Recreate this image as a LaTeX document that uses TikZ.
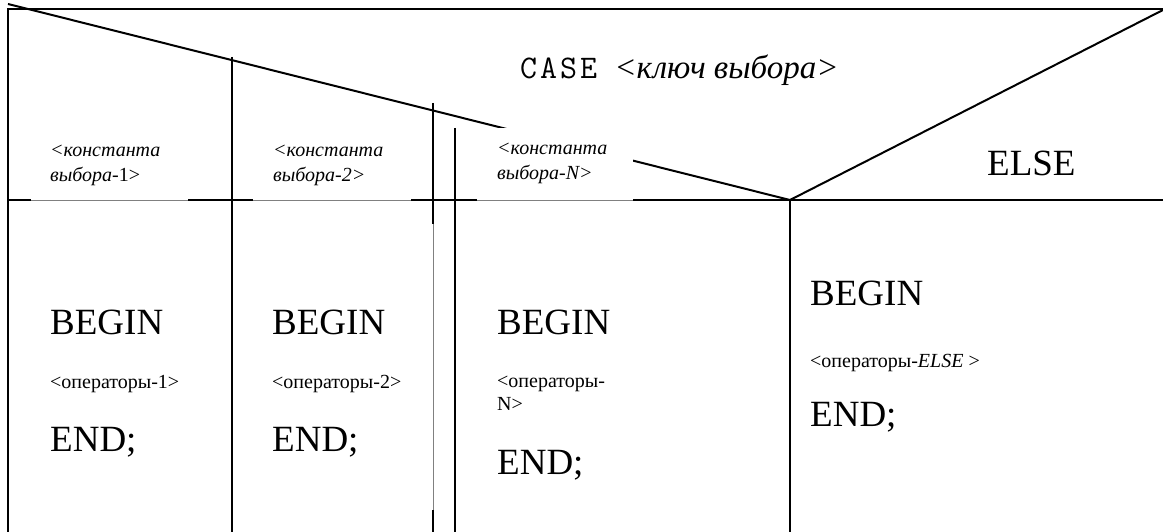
\documentclass[tikz,border=0pt]{standalone}
\usepackage{fontspec}
\setmainfont{Liberation Serif}

\tikzset{
  rule/.style={line width=2pt},
  hairline/.style={line width=.8pt, gray},
  keytext/.style={font=\fontsize{20}{25}\selectfont\itshape, anchor=base west, inner sep=0pt},
  word/.style={font=\fontsize{37}{40}\selectfont, anchor=base west, inner sep=0pt},
  optext/.style={font=\fontsize{20}{23}\selectfont, anchor=base west, inner sep=0pt},
}

\begin{document}
\begin{tikzpicture}[x=1pt, y=1pt]
  \useasboundingbox (0,0) rectangle (1163,532);
  % frame and the two header diagonals
  \draw[rule] (8,0) -- (8,523) -- (1163,523);
  \draw[rule] (8,528) -- (790,332) -- (1163,522);
  % column separators
  \draw[rule] (232,475) -- (232,0);
  \draw[rule] (433,429) -- (433,308);
  \draw[hairline] (433,308) -- (433,22);
  \draw[rule] (433,22) -- (433,0);
  \draw[rule] (455,404) -- (455,0);
  \draw[rule] (790,332) -- (790,0);
  % white patch under the last label
  \fill[white] (477,333) rectangle (633,404);
  % line under the labels
  \draw[hairline] (8,332) -- (790,332);
  \draw[rule] (8,332) -- (31,332) (188,332) -- (253,332)
              (411,332) -- (477,332) (633,332) -- (1163,332);

  \node[anchor=base west, inner sep=0pt, font=\fontsize{33}{36}\selectfont]
    (casekey) at (520,453)
    {{\ttfamily C\kern3pt A\kern3pt S\kern3pt E}\hspace{9pt} \textit{<ключ выбора>}};
  \node[word] (elsekey) at (987,356) {ELSE};

  % constants
  \node[keytext] (key1) at (50,375) {<константа};
  \node[keytext] (key1b) at (50,350) {выбора-{\upshape 1>}};
  \node[keytext] (key2) at (273,375) {<константа};
  \node[keytext] (key2b) at (273,350) {выбора-2>};
  \node[keytext] (keyN) at (497,377) {<константа};
  \node[keytext] (keyNb) at (497,352) {выбора-N>};

  % branch bodies
  \node[word] (begin1) at (50,197) {BEGIN};
  \node[optext] (ops1) at (50,143) {<операторы-1>};
  \node[word] (end1) at (50,80) {END;};

  \node[word] (begin2) at (272,197) {BEGIN};
  \node[optext] (ops2) at (272,143) {<операторы-2>};
  \node[word] (end2) at (272,80) {END;};

  \node[word] (beginN) at (497,197) {BEGIN};
  \node[optext] (opsN) at (497,144) {<операторы-};
  \node[optext] (opsNb) at (497,121) {N>};
  \node[word] (endN) at (497,57) {END;};

  \node[word] (beginE) at (810,226) {BEGIN};
  \node[optext] (opsE) at (810,164) {<операторы-\textit{ELSE} >};
  \node[word] (endE) at (810,105) {END;};
\end{tikzpicture}
\end{document}
